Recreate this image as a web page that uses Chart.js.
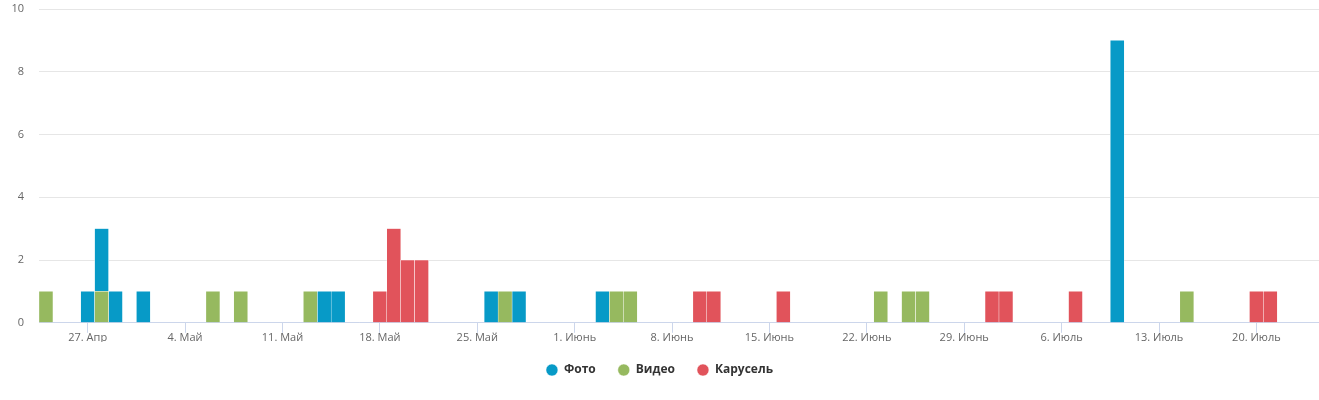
<!DOCTYPE html>
<html>
<head>
<meta charset="utf-8">
<script src="https://cdn.jsdelivr.net/npm/chart.js@4.4.1/dist/chart.umd.min.js"></script>
<style>
  html, body { margin: 0; padding: 0; background: #fff; }
  #wrap { width: 1319px; height: 400px; position: relative; }
</style>
</head>
<body>
<div id="wrap"><canvas id="chart"></canvas></div>
<script>
// дни с 24 апреля по 24 июля
const firstDay = Date.UTC(2020, 3, 24);
const dayCount = 92;
const monthNames = ["Янв", "Фев", "Мар", "Апр", "Май", "Июнь", "Июль", "Авг", "Сен", "Окт", "Ноя", "Дек"];

// серии: дата (день.месяц) и количество публикаций
const photoDates = ["27.04", "28.04", "29.04", "01.05", "14.05", "15.05", "26.05", "28.05", "03.06", "10.07"];
const photoValues = [1, 2, 1, 1, 1, 1, 1, 1, 1, 9];

const videoDates = ["24.04", "28.04", "06.05", "08.05", "13.05", "27.05", "04.06", "05.06", "23.06", "25.06", "26.06", "15.07"];
const videoValues = [1, 1, 1, 1, 1, 1, 1, 1, 1, 1, 1, 1];

const carouselDates = ["18.05", "19.05", "20.05", "21.05", "10.06", "11.06", "16.06", "01.07", "02.07", "07.07", "20.07", "21.07"];
const carouselValues = [1, 3, 2, 2, 1, 1, 1, 1, 1, 1, 1, 1];

const yTicks = [0, 2, 4, 6, 8, 10];

// категории по дням
const dayKeys = [];
const dayLabels = [];
for (let i = 0; i < dayCount; i++) {
  const d = new Date(firstDay + i * 86400000);
  const dd = String(d.getUTCDate()).padStart(2, "0");
  const mm = String(d.getUTCMonth() + 1).padStart(2, "0");
  dayKeys.push(dd + "." + mm);
  dayLabels.push(d.getUTCDate() + ". " + monthNames[d.getUTCMonth()]);
}

function toSeries(dates, values) {
  return dayKeys.map(k => {
    const idx = dates.indexOf(k);
    return idx >= 0 ? values[idx] : null;
  });
}

const isLabelTick = i => i % 7 === 3; // понедельники

const ctx = document.getElementById("chart").getContext("2d");
new Chart(ctx, {
  type: "bar",
  data: {
    labels: dayLabels,
    datasets: [
      { label: "Фото", data: toSeries(photoDates, photoValues), backgroundColor: "#079ac7", order: 2 },
      { label: "Видео", data: toSeries(videoDates, videoValues), backgroundColor: "#96b95f", order: 1 },
      { label: "Карусель", data: toSeries(carouselDates, carouselValues), backgroundColor: "#e1535b", order: 3 }
    ]
  },
  options: {
    responsive: true,
    maintainAspectRatio: false,
    animation: false,
    datasets: {
      bar: {
        barPercentage: 1,
        categoryPercentage: 1,
        borderColor: "#ffffff",
        borderWidth: 0.5,
        borderSkipped: "start"
      }
    },
    layout: { padding: { top: 9, right: 0, bottom: 14, left: 0 } },
    scales: {
      x: {
        stacked: true,
        offset: true,
        border: { display: true, color: "#ccd6eb", width: 1 },
        grid: {
          offset: false,
          drawOnChartArea: false,
          drawTicks: true,
          tickLength: 10,
          color: c => isLabelTick(c.index) ? "#ccd6eb" : "rgba(0,0,0,0)"
        },
        ticks: {
          autoSkip: false,
          maxRotation: 0,
          padding: -2,
          color: "#666666",
          font: { family: "Open Sans", size: 11 },
          callback: function (value, index) {
            return isLabelTick(index) ? this.getLabelForValue(value) : "";
          }
        }
      },
      y: {
        stacked: true,
        min: 0,
        max: 10,
        afterBuildTicks: s => { s.ticks = yTicks.map(v => ({ value: v })); },
        afterFit: s => { s.width = 39; },
        border: { display: false },
        grid: { color: "#e6e6e6", drawTicks: true, tickLength: 15, tickColor: "rgba(0,0,0,0)" },
        ticks: {
          padding: 0,
          color: "#666666",
          font: { family: "Open Sans", size: 11 }
        }
      }
    },
    plugins: {
      legend: {
        position: "bottom",
        labels: {
          usePointStyle: true,
          pointStyle: "circle",
          boxHeight: 8.5,
          pointStyleWidth: 12,
          padding: 22,
          color: "#333333",
          font: { family: "Open Sans", size: 12, weight: "bold" },
          sort: (a, b) => a.datasetIndex - b.datasetIndex
        }
      },
      tooltip: { enabled: false }
    }
  }
});
</script>
</body>
</html>
